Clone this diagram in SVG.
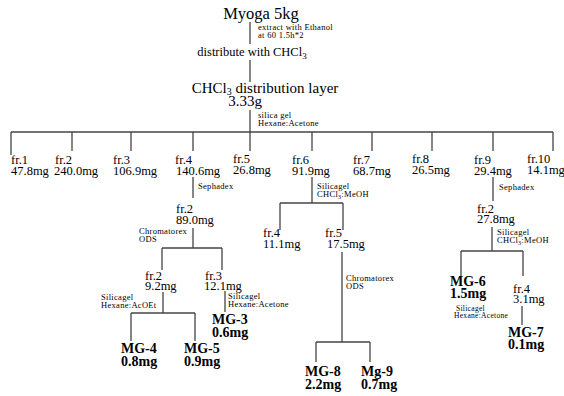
<svg xmlns="http://www.w3.org/2000/svg" width="564" height="396" viewBox="0 0 564 396">
<style>
text{font-family:"Liberation Serif","Times New Roman",serif;fill:#000}
.t{font-size:12.5px}
.h{font-size:16.5px}
.l{font-size:15px}
.s{font-size:8.5px;letter-spacing:0.3px}
.b{font-size:14px;font-weight:bold}
#connectors line{stroke:#444;stroke-width:1.3}
</style>
<rect width="564" height="396" fill="#fff"/>
<g id="connectors">
<line x1="250" y1="22" x2="250" y2="44"/>
<line x1="250" y1="60" x2="250" y2="82"/>
<line x1="250" y1="110" x2="250" y2="132"/>
<line x1="11" y1="132" x2="553" y2="132"/>
<line x1="11" y1="132" x2="11" y2="155"/>
<line x1="72" y1="132" x2="72" y2="151"/>
<line x1="131" y1="132" x2="131" y2="151"/>
<line x1="193" y1="132" x2="193" y2="151"/>
<line x1="250" y1="132" x2="250" y2="151"/>
<line x1="312" y1="132" x2="312" y2="151"/>
<line x1="372" y1="132" x2="372" y2="151"/>
<line x1="432" y1="132" x2="432" y2="151"/>
<line x1="493" y1="132" x2="493" y2="151"/>
<line x1="553" y1="132" x2="553" y2="151"/>
<line x1="193" y1="177" x2="193" y2="198"/>
<line x1="193" y1="228" x2="193" y2="248"/>
<line x1="162" y1="248" x2="222" y2="248"/>
<line x1="162" y1="248" x2="162" y2="270"/>
<line x1="222" y1="248" x2="222" y2="270"/>
<line x1="163" y1="292" x2="163" y2="313"/>
<line x1="131" y1="313" x2="195" y2="313"/>
<line x1="131" y1="313" x2="131" y2="341"/>
<line x1="195" y1="313" x2="195" y2="341"/>
<line x1="225" y1="291" x2="225" y2="312"/>
<line x1="312" y1="177" x2="312" y2="203"/>
<line x1="280" y1="203" x2="343" y2="203"/>
<line x1="280" y1="203" x2="280" y2="230"/>
<line x1="343" y1="203" x2="343" y2="230"/>
<line x1="342" y1="252" x2="342" y2="342"/>
<line x1="316" y1="342" x2="370" y2="342"/>
<line x1="316" y1="342" x2="316" y2="362"/>
<line x1="370" y1="342" x2="370" y2="362"/>
<line x1="493" y1="177" x2="493" y2="201"/>
<line x1="492" y1="227" x2="492" y2="251"/>
<line x1="461" y1="251" x2="523" y2="251"/>
<line x1="461" y1="251" x2="461" y2="276"/>
<line x1="523" y1="251" x2="523" y2="276"/>
<line x1="522" y1="306" x2="522" y2="325"/>
</g>
<g id="myoga"><text class="h" x="261" y="19" text-anchor="middle">Myoga 5kg</text></g>
<g id="step1"><text class="s" x="258" y="30">extract with Ethanol</text><text class="s" x="258" y="38">at 60  1.5h*2</text></g>
<g id="distribute"><text class="t" x="252" y="56" text-anchor="middle">distribute with CHCl<tspan font-size="9" dy="3">3</tspan></text></g>
<g id="layer"><text class="l" x="265" y="93" text-anchor="middle">CHCl<tspan font-size="10" dy="2">3</tspan><tspan dy="-2"> distribution layer</tspan></text><text class="l" x="245" y="106" text-anchor="middle">3.33g</text></g>
<g id="step2"><text class="s" x="258" y="118">silica gel</text><text class="s" x="258" y="126">Hexane:Acetone</text></g>
<g id="fr1"><text class="t" x="11" y="164">fr.1</text><text class="t" x="11" y="175">47.8mg</text></g>
<g id="fr2"><text class="t" x="55" y="164">fr.2</text><text class="t" x="54" y="175">240.0mg</text></g>
<g id="fr3"><text class="t" x="113" y="164">fr.3</text><text class="t" x="113" y="175">106.9mg</text></g>
<g id="fr4"><text class="t" x="175" y="164">fr.4</text><text class="t" x="176" y="175">140.6mg</text></g>
<g id="fr5"><text class="t" x="233" y="163">fr.5</text><text class="t" x="233" y="174">26.8mg</text></g>
<g id="fr6"><text class="t" x="292" y="164">fr.6</text><text class="t" x="292" y="175">91.9mg</text></g>
<g id="fr7"><text class="t" x="353" y="164">fr.7</text><text class="t" x="353" y="175">68.7mg</text></g>
<g id="fr8"><text class="t" x="412" y="163">fr.8</text><text class="t" x="412" y="174">26.5mg</text></g>
<g id="fr9"><text class="t" x="474" y="164">fr.9</text><text class="t" x="474" y="175">29.4mg</text></g>
<g id="fr10"><text class="t" x="527" y="163">fr.10</text><text class="t" x="527" y="174">14.1mg</text></g>
<g id="sep4"><text class="s" x="198" y="189">Sephadex</text></g>
<g id="fr4-2"><text class="t" x="176" y="213">fr.2</text><text class="t" x="176" y="224">89.0mg</text></g>
<g id="chrom4"><text class="s" x="139" y="234">Chromatorex</text><text class="s" x="139" y="242">ODS</text></g>
<g id="fr4-2-2"><text class="t" x="145" y="280">fr.2</text><text class="t" x="145" y="290">9.2mg</text></g>
<g id="fr4-2-3"><text class="t" x="205" y="280">fr.3</text><text class="t" x="204" y="290">12.1mg</text></g>
<g id="sil42"><text class="s" x="101" y="300">Silicagel</text><text class="s" x="101" y="308">Hexane:AcOEt</text></g>
<g id="sil43"><text class="s" x="228" y="299">Silicagel</text><text class="s" x="228" y="307">Hexane:Acetone</text></g>
<g id="mg3"><text class="b" x="212" y="324">MG-3</text><text class="b" x="212" y="337">0.6mg</text></g>
<g id="mg4"><text class="b" x="121" y="353">MG-4</text><text class="b" x="121" y="366">0.8mg</text></g>
<g id="mg5"><text class="b" x="184" y="353">MG-5</text><text class="b" x="184" y="366">0.9mg</text></g>
<g id="sil6"><text class="s" x="317" y="189">Silicagel</text><text class="s" x="317" y="197">CHCl<tspan font-size="6" dy="2">3</tspan><tspan dy="-2">:MeOH</tspan></text></g>
<g id="fr6-4"><text class="t" x="263" y="237">fr.4</text><text class="t" x="263" y="248">11.1mg</text></g>
<g id="fr6-5"><text class="t" x="325" y="237">fr.5</text><text class="t" x="327" y="248">17.5mg</text></g>
<g id="chrom6"><text class="s" x="346" y="281">Chromatorex</text><text class="s" x="346" y="289">ODS</text></g>
<g id="mg8"><text class="b" x="305" y="376">MG-8</text><text class="b" x="305" y="389">2.2mg</text></g>
<g id="mg9"><text class="b" x="361" y="376">Mg-9</text><text class="b" x="361" y="389">0.7mg</text></g>
<g id="sep9"><text class="s" x="499" y="190">Sephadex</text></g>
<g id="fr9-2"><text class="t" x="477" y="213">fr.2</text><text class="t" x="477" y="223">27.8mg</text></g>
<g id="sil9"><text class="s" x="497" y="235">Silicagel</text><text class="s" x="497" y="243">CHCl<tspan font-size="6" dy="2">3</tspan><tspan dy="-2">:MeOH</tspan></text></g>
<g id="mg6"><text class="b" x="450" y="286">MG-6</text><text class="b" x="450" y="298">1.5mg</text></g>
<g id="fr9-4"><text class="t" x="513" y="293">fr.4</text><text class="t" x="513" y="303">3.1mg</text></g>
<g id="sil94"><text class="s" x="456" y="311" style="font-size:7.5px">Silicagel</text><text class="s" x="454" y="318" style="font-size:7.5px">Hexane:Acetone</text></g>
<g id="mg7"><text class="b" x="508" y="337">MG-7</text><text class="b" x="508" y="349">0.1mg</text></g>
</svg>
